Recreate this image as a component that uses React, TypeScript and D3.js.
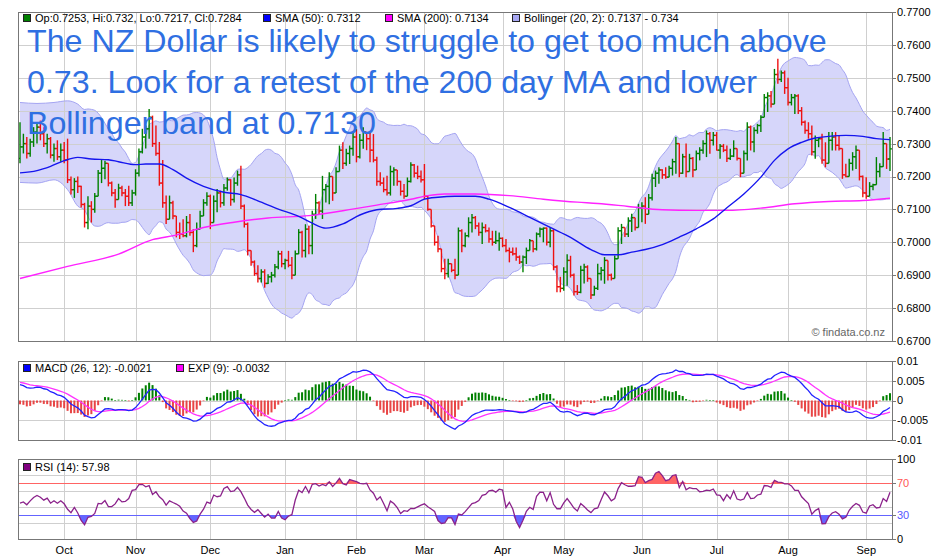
import React, { useEffect, useRef } from "react";
import * as d3 from "d3";

const W = 940;
const H = 560;

// daily bars, in pips (0.7284 -> 7284); open = previous close
const FIRST_OPEN = 7255;
const HIGH = [
  // Sep 2016
  7365, 7330, 7320, 7315, 7350, 7360, 7370, 7350, 7330, 7320, 7300, 7310, 7300,
  // Oct
  7305, 7315, 7200, 7195, 7200, 7172, 7120, 7140, 7125, 7150, 7220, 7250, 7248, 7240, 7185, 7162, 7178, 7172, 7162, 7172, 7160,
  // Nov
  7222, 7285, 7345, 7355, 7405, 7385, 7355, 7305, 7250, 7142, 7142, 7126, 7080, 7060, 7070, 7080, 7086, 7040, 7060, 7096, 7131, 7152,
  // Dec
  7145, 7142, 7162, 7157, 7177, 7197, 7192, 7197, 7218, 7233, 7115, 7060, 6975, 6945, 6930, 6918, 6918, 6903, 6910, 6934, 6974, 6974,
  // Jan
  6950, 6974, 6955, 6975, 7040, 7035, 7055, 7050, 7096, 7147, 7125, 7202, 7177, 7213, 7200, 7228, 7294, 7304, 7284, 7294, 7334,
  // Feb
  7344, 7329, 7350, 7335, 7334, 7329, 7260, 7213, 7197, 7202, 7233, 7228, 7220, 7187, 7177, 7197, 7243, 7238, 7233, 7218,
  // Mar
  7238, 7142, 7100, 7050, 7020, 6980, 6950, 6950, 6935, 6950, 7045, 7040, 7030, 7076, 7086, 7080, 7060, 7060, 7055, 7045, 7035, 7035, 7030,
  // Apr
  7015, 7010, 6984, 6984, 6984, 6960, 6960, 6984, 7010, 7005, 7030, 7045, 7045, 7045, 7045, 7040, 6930, 6895,
  // May
  6924, 6964, 6959, 6905, 6870, 6929, 6935, 6930, 6890, 6868, 6935, 6925, 6955, 6945, 6905, 6960, 7046, 7056, 7045, 7076, 7087, 7075, 7117,
  // Jun
  7122, 7137, 7147, 7208, 7218, 7228, 7222, 7228, 7233, 7254, 7320, 7300, 7269, 7300, 7269, 7259, 7279, 7289, 7310, 7340, 7335, 7335,
  // Jul
  7335, 7299, 7299, 7294, 7284, 7310, 7285, 7254, 7279, 7365, 7355, 7350, 7360, 7386, 7451, 7456, 7460, 7527, 7558, 7522, 7522,
  // Aug
  7500, 7451, 7451, 7450, 7411, 7370, 7365, 7355, 7325, 7320, 7330, 7304, 7335, 7335, 7335, 7325, 7285, 7239, 7254, 7274, 7294, 7280, 7203,
  // Sep 2017
  7198, 7183, 7178, 7259, 7240, 7335, 7300, 7320,
];
const LOW = [
  7240, 7270, 7255, 7260, 7290, 7300, 7310, 7290, 7270, 7255, 7245, 7250, 7245,
  7240, 7180, 7145, 7135, 7150, 7106, 7045, 7040, 7060, 7090, 7140, 7180, 7192, 7170, 7140, 7105, 7130, 7140, 7110, 7110, 7110,
  7142, 7200, 7270, 7285, 7315, 7290, 7263, 7172, 7105, 7056, 7070, 7070, 7015, 7010, 7015, 7015, 7020, 6970, 6985, 7040, 7080, 7111,
  7040, 7060, 7091, 7106, 7111, 7157, 7111, 7121, 7172, 7101, 7045, 6960, 6929, 6898, 6878, 6878, 6862, 6873, 6878, 6893, 6918, 6924,
  6918, 6924, 6888, 6900, 6964, 6954, 6954, 6964, 6964, 7071, 7086, 7071, 7121, 7116, 7126, 7150, 7215, 7223, 7233, 7238, 7263,
  7243, 7255, 7284, 7280, 7243, 7243, 7172, 7172, 7152, 7142, 7142, 7172, 7172, 7142, 7132, 7140, 7182, 7197, 7192, 7182,
  7131, 7096, 7045, 6990, 6970, 6909, 6888, 6893, 6909, 6888, 6900, 6970, 6985, 7015, 7030, 7040, 7020, 6995, 7030, 6999, 6990, 6995, 6974,
  6985, 6970, 6939, 6960, 6944, 6934, 6909, 6934, 6975, 6970, 6975, 7015, 7000, 6990, 6985, 6915, 6848, 6848,
  6853, 6868, 6893, 6838, 6840, 6845, 6875, 6880, 6828, 6838, 6855, 6884, 6874, 6884, 6884, 6890, 6950, 6995, 7016, 7016, 7031, 7036, 7045,
  7061, 7056, 7085, 7127, 7168, 7178, 7193, 7193, 7198, 7203, 7208, 7198, 7208, 7198, 7215, 7198, 7220, 7249, 7269, 7259, 7269, 7294,
  7279, 7254, 7274, 7244, 7250, 7259, 7249, 7198, 7210, 7249, 7279, 7274, 7330, 7335, 7380, 7396, 7410, 7420, 7482, 7487, 7451,
  7416, 7416, 7390, 7390, 7355, 7330, 7315, 7264, 7254, 7289, 7239, 7228, 7240, 7279, 7279, 7279, 7193, 7198, 7200, 7218, 7223, 7188, 7137,
  7132, 7140, 7158, 7175, 7198, 7230, 7223, 7217,
];
const CLOSE = [
  7290, 7300, 7270, 7305, 7335, 7350, 7330, 7300, 7315, 7265, 7285, 7260, 7280,
  7250, 7190, 7160, 7185, 7170, 7115, 7060, 7110, 7100, 7140, 7210, 7225, 7240, 7180, 7150, 7130, 7165, 7150, 7140, 7120, 7150,
  7210, 7275, 7320, 7345, 7380, 7300, 7270, 7180, 7120, 7070, 7120, 7080, 7030, 7025, 7020, 7060, 7030, 6990, 7040, 7080, 7120, 7140,
  7060, 7125, 7150, 7120, 7165, 7190, 7130, 7180, 7205, 7110, 7055, 6975, 6940, 6905, 6890, 6910, 6875, 6895, 6900, 6925, 6965, 6935,
  6945, 6930, 6900, 6965, 7030, 6975, 7040, 6990, 7085, 7120, 7095, 7160, 7170, 7200, 7150, 7215, 7280, 7240, 7270, 7285, 7320,
  7260, 7310, 7335, 7315, 7280, 7250, 7185, 7180, 7160, 7150, 7215, 7220, 7185, 7155, 7140, 7185, 7235, 7210, 7200, 7190,
  7140, 7100, 7050, 7000, 6980, 6920, 6905, 6935, 6915, 6900, 7035, 6990, 7020, 7060, 7075, 7050, 7030, 7045, 7035, 7010, 7000, 7005, 7012,
  6990, 6975, 6970, 6965, 6955, 6940, 6955, 6975, 7005, 6980, 7025, 7040, 7043, 7000, 7035, 6925, 6865, 6860,
  6910, 6945, 6900, 6850, 6848, 6915, 6925, 6890, 6840, 6860, 6905, 6915, 6945, 6900, 6890, 6950, 7035, 7045, 7025, 7065, 7075, 7045, 7105,
  7110, 7085, 7135, 7195, 7210, 7220, 7205, 7198, 7225, 7245, 7300, 7210, 7260, 7215, 7255, 7220, 7270, 7280, 7300, 7330, 7310, 7325,
  7280, 7292, 7280, 7255, 7262, 7285, 7255, 7210, 7270, 7350, 7305, 7340, 7355, 7380, 7440, 7445, 7420, 7510, 7495, 7515, 7470,
  7425, 7440, 7445, 7400, 7365, 7340, 7330, 7275, 7310, 7315, 7250, 7240, 7310, 7320, 7295, 7285, 7205, 7200, 7240, 7260, 7280, 7200, 7150,
  7140, 7170, 7175, 7215, 7230, 7300, 7253, 7284,
];

const START_DATE = new Date(2016, 8, 14);
const HOLIDAYS = ["2017-01-02", "2017-04-14", "2017-04-17"];

// moving averages: [bar index, value]
const SMA50 = [
  [0, 0.7211], [5, 0.7218], [9, 0.7231], [13, 0.7248], [17, 0.7258], [21, 0.7253], [26, 0.7251],
  [29, 0.7245], [34, 0.7236], [37, 0.7238], [41, 0.7238], [45, 0.7221], [49, 0.7195], [54, 0.717],
  [60, 0.7152], [65, 0.7145], [70, 0.7126], [76, 0.7101], [82, 0.7079], [86, 0.7058], [90, 0.7043],
  [95, 0.7056], [100, 0.7083], [105, 0.7099], [111, 0.7103], [115, 0.7111], [119, 0.7131], [123, 0.7137],
  [128, 0.714], [134, 0.714], [138, 0.7131], [144, 0.7106], [150, 0.7076], [156, 0.7045], [162, 0.7015],
  [168, 0.6978], [172, 0.6962], [176, 0.6962], [180, 0.697], [184, 0.6978], [189, 0.6993], [194, 0.7016],
  [199, 0.7041], [204, 0.7071], [208, 0.7105], [213, 0.7147], [218, 0.7198], [222, 0.7249], [226, 0.7284],
  [230, 0.7304], [234, 0.7317], [238, 0.7322], [243, 0.7325], [248, 0.7322], [252, 0.7315], [256, 0.7312],
];
const SMA200 = [
  [0, 0.689], [14, 0.6927], [29, 0.6964], [39, 0.7008], [46, 0.7022], [54, 0.7045], [63, 0.7061],
  [73, 0.7074], [85, 0.7081], [95, 0.7096], [105, 0.7113], [115, 0.7131], [120, 0.7142], [125, 0.7147],
  [134, 0.7147], [144, 0.7142], [154, 0.7131], [164, 0.7122], [170, 0.7118], [179, 0.7109], [189, 0.7099],
  [199, 0.7097], [208, 0.7097], [218, 0.7104], [228, 0.7117], [238, 0.7124], [248, 0.7127], [256, 0.7134],
];
// band before a full 20-bar window exists: [bar index, upper, lower]
const BB_LEAD = [
  [0, 0.7425, 0.7182], [5, 0.7422, 0.718], [10, 0.7425, 0.719], [14, 0.743, 0.716], [17, 0.742, 0.711],
];
const BB_PERIOD = 20;

// indicator starting states (EMA12, EMA26, signal) and RSI (avg gain, avg loss)
const MACD_SEED = [0.7295, 0.7255, 0.0046];
const RSI_SEED = [0.0013, 0.0016];
const RSI_PERIOD = 14;
const HIST_SCALE = 1.6;

const PRICE_TICKS = [0.67, 0.68, 0.69, 0.7, 0.71, 0.72, 0.73, 0.74, 0.75, 0.76, 0.77];
const MACD_TICKS = [0.01, 0.005, 0, -0.005, -0.01];
const MACD_LABELS = ["0.01", "0.005", "0", "-0.005", "-0.01"];
const RSI_GRID = [20, 40, 60, 80];
const RSI_LABELS = [100, 70, 30, 0];

const NOTE = [
  "The NZ Dollar is likely to struggle to get too much above",
  "0.73. Look for a retest of the 200 day MA and lower",
  "Bollinger band at 0.7130",
];
const LEGEND_MAIN = [
  { x: 23, text: "Op:0.7253, Hi:0.732, Lo:0.7217, Cl:0.7284", color: "#008000" },
  { x: 263, text: "SMA (50): 0.7312", color: "#0000ff" },
  { x: 385, text: "SMA (200): 0.7134", color: "#ff00ff" },
  { x: 512, text: "Bollinger (20, 2): 0.7137 - 0.734", color: "#a8a8f4" },
];
const LEGEND_MACD = [
  { x: 23, text: "MACD (26, 12): -0.0021", color: "#0000ff" },
  { x: 176, text: "EXP (9): -0.0032", color: "#ff00ff" },
];

const FONT = "'Liberation Sans', Arial, sans-serif";
const PL = 18;
const PR = 892;

const App = () => {
  const ref = useRef<SVGSVGElement>(null);

  useEffect(() => {
    const svg = d3.select(ref.current);
    svg.selectAll("*").remove();

    const n = CLOSE.length;
    const close = CLOSE.map((v) => v / 10000);
    const high = HIGH.map((v) => v / 10000);
    const low = LOW.map((v) => v / 10000);
    const open = close.map((c, i) => (i === 0 ? FIRST_OPEN / 10000 : close[i - 1]));

    // trading days
    const key = d3.timeFormat("%Y-%m-%d");
    const dates: Date[] = [];
    const d = new Date(START_DATE);
    while (dates.length < n) {
      const wd = d.getDay();
      if (wd !== 0 && wd !== 6 && !HOLIDAYS.includes(key(d))) dates.push(new Date(d));
      d.setDate(d.getDate() + 1);
    }
    const monthIdx = d3.range(1, n).filter((i) => dates[i].getMonth() !== dates[i - 1].getMonth());

    const x = d3.scaleLinear().domain([0, n - 1]).range([20, 890]);
    const yP = d3.scaleLinear().domain([0.67, 0.77]).range([341, 12]);
    const yM = d3.scaleLinear().domain([-0.01, 0.01]).range([440, 361]);
    const yR = d3.scaleLinear().domain([0, 100]).range([539, 459]);
    const px = (v: number) => Math.round(v) + 0.5;

    // bollinger
    const band: { i: number; up: number; lo: number }[] = BB_LEAD.map(([i, up, lo]) => ({ i, up, lo }));
    for (let i = BB_PERIOD - 1; i < n; i++) {
      const win = close.slice(i - BB_PERIOD + 1, i + 1);
      const m = d3.mean(win) as number;
      const sd = Math.sqrt(d3.mean(win, (v) => (v - m) * (v - m)) as number);
      band.push({ i, up: m + 2 * sd, lo: m - 2 * sd });
    }

    // macd
    const macd: number[] = [];
    const signal: number[] = [];
    let e12 = MACD_SEED[0];
    let e26 = MACD_SEED[1];
    let sig = MACD_SEED[2];
    close.forEach((c, i) => {
      if (i > 0) {
        e12 = c * (2 / 13) + e12 * (11 / 13);
        e26 = c * (2 / 27) + e26 * (25 / 27);
      }
      const m = e12 - e26;
      if (i > 0) sig = m * 0.2 + sig * 0.8;
      macd.push(m);
      signal.push(sig);
    });

    // rsi: simple 14-bar average of gains / losses
    const rsi = close.map((_, i) => {
      let gain = 0;
      let loss = 0;
      for (let j = i - RSI_PERIOD + 1; j <= i; j++) {
        if (j < 1) {
          gain += RSI_SEED[0];
          loss += RSI_SEED[1];
        } else {
          const ch = close[j] - close[j - 1];
          if (ch > 0) gain += ch;
          else loss -= ch;
        }
      }
      return gain + loss === 0 ? 50 : (100 * gain) / (gain + loss);
    });

    const panels = [
      { top: 12, bottom: 341 },
      { top: 361, bottom: 440 },
      { top: 459, bottom: 539 },
    ];

    // ---- main panel ----
    const bandArea = d3
      .area<{ i: number; up: number; lo: number }>()
      .x((b) => x(b.i))
      .y0((b) => yP(b.lo))
      .y1((b) => yP(b.up))
      .curve(d3.curveMonotoneX);
    svg.append("path").attr("d", bandArea(band)).attr("fill", "#d6d6fa");

    const grid = svg.append("g").attr("stroke", "#cfcfcf").attr("stroke-width", 1);
    PRICE_TICKS.slice(1, -1).forEach((t) =>
      grid.append("line").attr("x1", PL).attr("x2", PR).attr("y1", px(yP(t))).attr("y2", px(yP(t)))
    );
    MACD_TICKS.slice(1, -1).forEach((t) =>
      grid.append("line").attr("x1", PL).attr("x2", PR).attr("y1", px(yM(t))).attr("y2", px(yM(t)))
    );
    RSI_GRID.forEach((t) =>
      grid.append("line").attr("x1", PL).attr("x2", PR).attr("y1", px(yR(t))).attr("y2", px(yR(t)))
    );
    panels.forEach((p) =>
      monthIdx.forEach((i) =>
        grid.append("line").attr("x1", px(x(i))).attr("x2", px(x(i))).attr("y1", p.top).attr("y2", p.bottom)
      )
    );

    const bandLine = (k: "up" | "lo") =>
      d3
        .line<{ i: number; up: number; lo: number }>()
        .x((b) => x(b.i))
        .y((b) => yP(b[k]))
        .curve(d3.curveMonotoneX)(band);
    ["up", "lo"].forEach((k) =>
      svg
        .append("path")
        .attr("d", bandLine(k as "up" | "lo"))
        .attr("fill", "none")
        .attr("stroke", "#a4a4f2")
        .attr("stroke-width", 1)
    );

    // ohlc bars
    const bars = svg.append("g").attr("stroke-width", 1.4);
    close.forEach((c, i) => {
      const col = c >= open[i] ? "#008000" : "#ee1111";
      const xi = x(i);
      const g = bars.append("g").attr("stroke", col);
      g.append("line")
        .attr("x1", xi).attr("x2", xi)
        .attr("y1", yP(Math.max(high[i], open[i], c)))
        .attr("y2", yP(Math.min(low[i], open[i], c)));
      g.append("line").attr("x1", xi - 2).attr("x2", xi).attr("y1", yP(open[i])).attr("y2", yP(open[i]));
      g.append("line").attr("x1", xi).attr("x2", xi + 2).attr("y1", yP(c)).attr("y2", yP(c));
    });

    const smaLine = d3
      .line<number[]>()
      .x((p) => x(p[0]))
      .y((p) => yP(p[1]))
      .curve(d3.curveMonotoneX);
    svg.append("path").attr("d", smaLine(SMA200)).attr("fill", "none").attr("stroke", "#ff22ff").attr("stroke-width", 1.4);
    svg.append("path").attr("d", smaLine(SMA50)).attr("fill", "none").attr("stroke", "#1515ee").attr("stroke-width", 1.4);

    // ---- macd panel ----
    const hist = svg.append("g");
    macd.forEach((m, i) => {
      const h = (m - signal[i]) * HIST_SCALE;
      const y0 = yM(0);
      const y1 = yM(h);
      hist
        .append("rect")
        .attr("x", x(i) - 1)
        .attr("width", 2)
        .attr("y", Math.min(y0, y1))
        .attr("height", Math.max(Math.abs(y1 - y0), 0.6))
        .attr("fill", h >= 0 ? "#008000" : "#e84545");
    });
    const idxLine = (ys: d3.ScaleLinear<number, number>) =>
      d3
        .line<number>()
        .x((_, i) => x(i))
        .y((v) => ys(v));
    svg.append("path").attr("d", idxLine(yM)(signal)).attr("fill", "none").attr("stroke", "#ff33ff").attr("stroke-width", 1.3);
    svg.append("path").attr("d", idxLine(yM)(macd)).attr("fill", "none").attr("stroke", "#2222ff").attr("stroke-width", 1.3);

    // ---- rsi panel ----
    const over = d3
      .area<number>()
      .x((_, i) => x(i))
      .y0(yR(70))
      .y1((v) => yR(Math.max(v, 70)));
    const under = d3
      .area<number>()
      .x((_, i) => x(i))
      .y0(yR(30))
      .y1((v) => yR(Math.min(v, 30)));
    svg.append("path").attr("d", over(rsi)).attr("fill", "#ff6464");
    svg.append("path").attr("d", under(rsi)).attr("fill", "#6464ff");
    svg.append("line").attr("x1", PL).attr("x2", PR).attr("y1", px(yR(70))).attr("y2", px(yR(70))).attr("stroke", "#ff6464");
    svg.append("line").attr("x1", PL).attr("x2", PR).attr("y1", px(yR(30))).attr("y2", px(yR(30))).attr("stroke", "#6464ff");
    svg.append("path").attr("d", idxLine(yR)(rsi)).attr("fill", "none").attr("stroke", "#8b228b").attr("stroke-width", 1.3);

    // ---- frames and axes ----
    panels.forEach((p) =>
      svg
        .append("rect")
        .attr("x", PL + 0.5)
        .attr("y", p.top + 0.5)
        .attr("width", PR - PL)
        .attr("height", p.bottom - p.top)
        .attr("fill", "none")
        .attr("stroke", "#777")
    );

    const axisText = (y: number, label: string, color = "#000") => {
      svg.append("line").attr("x1", PR).attr("x2", PR + 4).attr("y1", px(y)).attr("y2", px(y)).attr("stroke", "#777");
      svg
        .append("text")
        .attr("x", PR + 5)
        .attr("y", y)
        .attr("dy", "0.36em")
        .attr("font-family", FONT)
        .attr("font-size", 11)
        .attr("fill", color)
        .text(label);
    };
    PRICE_TICKS.forEach((t) => axisText(yP(t), d3.format(".4f")(t)));
    MACD_TICKS.forEach((t, k) => axisText(yM(t), MACD_LABELS[k]));
    RSI_LABELS.forEach((t) => axisText(yR(t), String(t), t === 70 ? "#ff5555" : t === 30 ? "#5555ff" : "#000"));

    const fmtMonth = d3.timeFormat("%b");
    monthIdx.forEach((i) =>
      svg
        .append("text")
        .attr("x", x(i))
        .attr("y", 554)
        .attr("text-anchor", "middle")
        .attr("font-family", FONT)
        .attr("font-size", 11)
        .text(fmtMonth(dates[i]))
    );

    // ---- legends ----
    const legend = (items: { x: number; text: string; color: string }[], top: number) =>
      items.forEach((it) => {
        svg.append("rect").attr("x", it.x + 0.5).attr("y", top + 0.5).attr("width", 7).attr("height", 7).attr("fill", it.color).attr("stroke", "#222");
        svg
          .append("text")
          .attr("x", it.x + 12)
          .attr("y", top + 8)
          .attr("font-family", FONT)
          .attr("font-size", 11)
          .text(it.text);
      });
    legend(LEGEND_MAIN, 14);
    legend(LEGEND_MACD, 364);
    legend([{ x: 23, text: "RSI (14): 57.98", color: "#800080" }], 463);

    // ---- annotation ----
    NOTE.forEach((line, k) =>
      svg
        .append("text")
        .attr("x", 27)
        .attr("y", 52 + k * 41)
        .attr("font-family", FONT)
        .attr("font-size", 32.2)
        .attr("fill", "#2f6fe2")
        .text(line)
    );

    svg
      .append("text")
      .attr("x", 885)
      .attr("y", 336)
      .attr("text-anchor", "end")
      .attr("font-family", FONT)
      .attr("font-size", 11)
      .attr("fill", "#666")
      .text("© findata.co.nz");
  }, []);

  return (
    <svg
      ref={ref}
      width={W}
      height={H}
      viewBox={`0 0 ${W} ${H}`}
      style={{ position: "absolute", left: 0, top: 0, background: "#fff" }}
    />
  );
};

export default App;
